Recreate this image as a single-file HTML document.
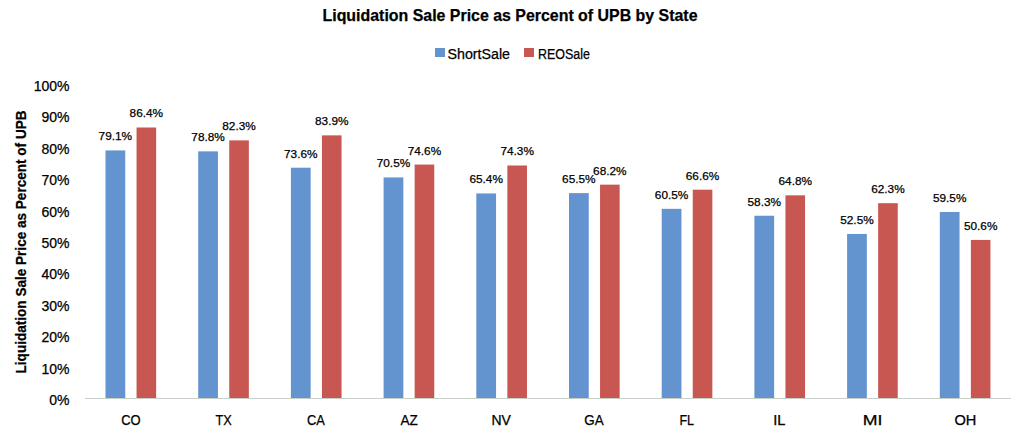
<!DOCTYPE html>
<html><head><meta charset="utf-8"><style>
html,body{margin:0;padding:0;background:#fff;width:1018px;height:432px;overflow:hidden}
svg{display:block}
text{font-family:"Liberation Sans",sans-serif;fill:#000;stroke:#000;stroke-width:0.25px}
</style></head><body>
<svg width="1018" height="432" viewBox="0 0 1018 432">
<rect width="1018" height="432" fill="#fff"/>
<rect x="105.50" y="150.43" width="19.75" height="247.57" fill="#6494cf"/>
<text x="115.38" y="140.38" font-size="11.6" text-anchor="middle" textLength="33.5" lengthAdjust="spacingAndGlyphs">79.1%</text>
<rect x="136.55" y="127.50" width="19.60" height="270.50" fill="#c95751"/>
<text x="146.35" y="117.45" font-size="11.6" text-anchor="middle" textLength="33.5" lengthAdjust="spacingAndGlyphs">86.4%</text>
<text x="130.84" y="425.0" font-size="13.8" text-anchor="middle" textLength="19.43" lengthAdjust="spacingAndGlyphs">CO</text>
<rect x="198.20" y="151.37" width="19.75" height="246.63" fill="#6494cf"/>
<text x="208.07" y="141.32" font-size="11.6" text-anchor="middle" textLength="33.5" lengthAdjust="spacingAndGlyphs">78.8%</text>
<rect x="229.25" y="140.38" width="19.60" height="257.62" fill="#c95751"/>
<text x="239.05" y="130.33" font-size="11.6" text-anchor="middle" textLength="33.5" lengthAdjust="spacingAndGlyphs">82.3%</text>
<text x="223.55" y="425.0" font-size="13.8" text-anchor="middle" textLength="16.25" lengthAdjust="spacingAndGlyphs">TX</text>
<rect x="290.90" y="167.70" width="19.75" height="230.30" fill="#6494cf"/>
<text x="300.77" y="157.65" font-size="11.6" text-anchor="middle" textLength="33.5" lengthAdjust="spacingAndGlyphs">73.6%</text>
<rect x="321.95" y="135.35" width="19.60" height="262.65" fill="#c95751"/>
<text x="331.75" y="125.30" font-size="11.6" text-anchor="middle" textLength="33.5" lengthAdjust="spacingAndGlyphs">83.9%</text>
<text x="315.95" y="425.0" font-size="13.8" text-anchor="middle" textLength="17.88" lengthAdjust="spacingAndGlyphs">CA</text>
<rect x="383.60" y="177.43" width="19.75" height="220.57" fill="#6494cf"/>
<text x="393.48" y="167.38" font-size="11.6" text-anchor="middle" textLength="33.5" lengthAdjust="spacingAndGlyphs">70.5%</text>
<rect x="414.65" y="164.56" width="19.60" height="233.44" fill="#c95751"/>
<text x="424.45" y="154.51" font-size="11.6" text-anchor="middle" textLength="33.5" lengthAdjust="spacingAndGlyphs">74.6%</text>
<text x="409.16" y="425.0" font-size="13.8" text-anchor="middle" textLength="17.35" lengthAdjust="spacingAndGlyphs">AZ</text>
<rect x="476.30" y="193.44" width="19.75" height="204.56" fill="#6494cf"/>
<text x="486.18" y="183.39" font-size="11.6" text-anchor="middle" textLength="33.5" lengthAdjust="spacingAndGlyphs">65.4%</text>
<rect x="507.35" y="165.50" width="19.60" height="232.50" fill="#c95751"/>
<text x="517.15" y="155.45" font-size="11.6" text-anchor="middle" textLength="33.5" lengthAdjust="spacingAndGlyphs">74.3%</text>
<text x="501.12" y="425.0" font-size="13.8" text-anchor="middle" textLength="19.41" lengthAdjust="spacingAndGlyphs">NV</text>
<rect x="569.00" y="193.13" width="19.75" height="204.87" fill="#6494cf"/>
<text x="578.88" y="183.08" font-size="11.6" text-anchor="middle" textLength="33.5" lengthAdjust="spacingAndGlyphs">65.5%</text>
<rect x="600.05" y="184.65" width="19.60" height="213.35" fill="#c95751"/>
<text x="609.85" y="174.60" font-size="11.6" text-anchor="middle" textLength="33.5" lengthAdjust="spacingAndGlyphs">68.2%</text>
<text x="594.04" y="425.0" font-size="13.8" text-anchor="middle" textLength="19.40" lengthAdjust="spacingAndGlyphs">GA</text>
<rect x="661.70" y="208.83" width="19.75" height="189.17" fill="#6494cf"/>
<text x="671.58" y="198.78" font-size="11.6" text-anchor="middle" textLength="33.5" lengthAdjust="spacingAndGlyphs">60.5%</text>
<rect x="692.75" y="189.68" width="19.60" height="208.32" fill="#c95751"/>
<text x="702.55" y="179.63" font-size="11.6" text-anchor="middle" textLength="33.5" lengthAdjust="spacingAndGlyphs">66.6%</text>
<text x="686.75" y="425.0" font-size="13.8" text-anchor="middle" textLength="14.65" lengthAdjust="spacingAndGlyphs">FL</text>
<rect x="754.40" y="215.74" width="19.75" height="182.26" fill="#6494cf"/>
<text x="764.27" y="205.69" font-size="11.6" text-anchor="middle" textLength="33.5" lengthAdjust="spacingAndGlyphs">58.3%</text>
<rect x="785.45" y="195.33" width="19.60" height="202.67" fill="#c95751"/>
<text x="795.25" y="185.28" font-size="11.6" text-anchor="middle" textLength="33.5" lengthAdjust="spacingAndGlyphs">64.8%</text>
<text x="779.33" y="425.0" font-size="13.8" text-anchor="middle" textLength="12.24" lengthAdjust="spacingAndGlyphs">IL</text>
<rect x="847.10" y="233.95" width="19.75" height="164.05" fill="#6494cf"/>
<text x="856.98" y="223.90" font-size="11.6" text-anchor="middle" textLength="33.5" lengthAdjust="spacingAndGlyphs">52.5%</text>
<rect x="878.15" y="203.18" width="19.60" height="194.82" fill="#c95751"/>
<text x="887.95" y="193.13" font-size="11.6" text-anchor="middle" textLength="33.5" lengthAdjust="spacingAndGlyphs">62.3%</text>
<text x="872.55" y="425.0" font-size="13.8" text-anchor="middle" textLength="19.69" lengthAdjust="spacingAndGlyphs">MI</text>
<rect x="939.80" y="211.97" width="19.75" height="186.03" fill="#6494cf"/>
<text x="949.68" y="201.92" font-size="11.6" text-anchor="middle" textLength="33.5" lengthAdjust="spacingAndGlyphs">59.5%</text>
<rect x="970.85" y="239.92" width="19.60" height="158.08" fill="#c95751"/>
<text x="980.65" y="229.87" font-size="11.6" text-anchor="middle" textLength="33.5" lengthAdjust="spacingAndGlyphs">50.6%</text>
<text x="965.41" y="425.0" font-size="13.8" text-anchor="middle" textLength="21.88" lengthAdjust="spacingAndGlyphs">OH</text>
<line x1="85" y1="398.5" x2="1011" y2="398.5" stroke="#c8d0c8" stroke-width="1"/>
<text x="69.5" y="405.00" font-size="14.0" text-anchor="end">0%</text>
<text x="69.5" y="373.60" font-size="14.0" text-anchor="end">10%</text>
<text x="69.5" y="342.20" font-size="14.0" text-anchor="end">20%</text>
<text x="69.5" y="310.80" font-size="14.0" text-anchor="end">30%</text>
<text x="69.5" y="279.40" font-size="14.0" text-anchor="end">40%</text>
<text x="69.5" y="248.00" font-size="14.0" text-anchor="end">50%</text>
<text x="69.5" y="216.60" font-size="14.0" text-anchor="end">60%</text>
<text x="69.5" y="185.20" font-size="14.0" text-anchor="end">70%</text>
<text x="69.5" y="153.80" font-size="14.0" text-anchor="end">80%</text>
<text x="69.5" y="122.40" font-size="14.0" text-anchor="end">90%</text>
<text x="69.5" y="91.00" font-size="14.0" text-anchor="end">100%</text>
<text x="510" y="20.6" font-size="16.5" font-weight="bold" text-anchor="middle" textLength="375" lengthAdjust="spacingAndGlyphs">Liquidation Sale Price as Percent of UPB by State</text>
<text transform="translate(26.4,241.95) rotate(-90)" x="0" y="0" font-size="14.0" font-weight="bold" text-anchor="middle" textLength="263" lengthAdjust="spacingAndGlyphs">Liquidation Sale Price as Percent of UPB</text>
<rect x="435" y="48" width="10" height="9" fill="#6494cf"/>
<text x="447.5" y="58.7" font-size="14.0" textLength="62.5" lengthAdjust="spacingAndGlyphs">ShortSale</text>
<rect x="524" y="48" width="10" height="9" fill="#c95751"/>
<text x="538" y="58.7" font-size="14.0" textLength="52" lengthAdjust="spacingAndGlyphs">REOSale</text>
</svg>
</body></html>
